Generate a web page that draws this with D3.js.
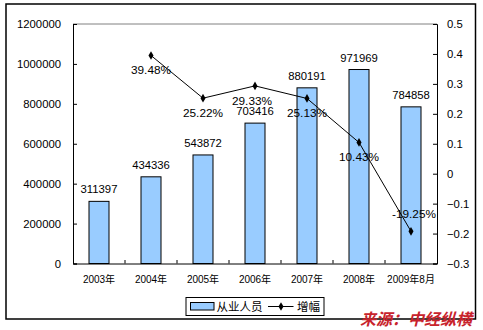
<!DOCTYPE html>
<html><head><meta charset="utf-8">
<script src="https://cdn.jsdelivr.net/npm/d3@7"></script>
<style>
body{margin:0;background:#fff;}
text{font-family:"Liberation Sans",Arial,"Noto Sans CJK SC",sans-serif;}
</style></head>
<body>
<svg id="c" width="483" height="330"></svg>
<script>
const categories = ["2003年","2004年","2005年","2006年","2007年","2008年","2009年8月"];
const employees = [311397,434336,543872,703416,880191,971969,784858];
const growthCats = ["2004年","2005年","2006年","2007年","2008年","2009年8月"];
const growth = [0.3948,0.2522,0.2933,0.2513,0.1043,-0.1925];
const growthLabels = ["39.48%","25.22%","29.33%","25.13%","10.43%","-19.25%"];
const leftTicks = [0,200000,400000,600000,800000,1000000,1200000];
const rightTicks = [-0.3,-0.2,-0.1,0,0.1,0.2,0.3,0.4,0.5];
const legendNames = ["从业人员","增幅"];

const svg = d3.select("#c");
const L=73,R=437,T=24,B=263.5;
const font="11.3px";

// outer border
svg.append("rect").attr("x",6).attr("y",4).attr("width",469.5).attr("height",315)
  .attr("fill","none").attr("stroke","#000").attr("stroke-width",1.5);

const x = d3.scaleBand().domain(categories).range([L,R]).paddingInner(0.615).paddingOuter(0.3075);
const xb = d3.scaleBand().domain(categories).range([L,R]);
const yL = d3.scaleLinear().domain([0,1200000]).range([B,T]);
const yR = d3.scaleLinear().domain([-0.3,0.5]).range([B,T]);

// top gray line
svg.append("line").attr("x1",L).attr("x2",R).attr("y1",T).attr("y2",T).attr("stroke","#808080").attr("stroke-width",1);

// bars
svg.selectAll("rect.bar").data(employees).enter().append("rect").attr("class","bar")
  .attr("x",(d,i)=>xb(categories[i])+xb.bandwidth()/2-10)
  .attr("width",20)
  .attr("y",d=>yL(d)).attr("height",d=>B-yL(d))
  .attr("fill","#99CCFF").attr("stroke","#000").attr("stroke-width",1);

// bar labels
svg.selectAll("text.bl").data(employees).enter().append("text").attr("class","bl")
  .attr("x",(d,i)=>xb(categories[i])+xb.bandwidth()/2)
  .attr("y",d=>yL(d)-8)
  .attr("text-anchor","middle").attr("font-size",font).attr("fill","#000").text(d=>d);

// left axis
const ga = svg.append("g").attr("transform",`translate(${L},0)`)
  .call(d3.axisLeft(yL).tickValues(leftTicks).tickSize(-4).tickPadding(12).tickFormat(d3.format("d")));
ga.select(".domain").attr("stroke","#000");
ga.selectAll("text").attr("font-size",font).attr("fill","#000").style("font-family",'"Liberation Sans",Arial,sans-serif');

// right axis
const gr = svg.append("g").attr("transform",`translate(${R},0)`)
  .call(d3.axisRight(yR).tickValues(rightTicks).tickSize(-4).tickPadding(10).tickFormat(d=>d3.format("")(+d.toFixed(1))));
gr.select(".domain").attr("stroke","#000");
gr.selectAll("text").attr("font-size",font).attr("fill","#000");

// bottom axis
const gb = svg.append("g").attr("transform",`translate(0,${B})`)
  .call(d3.axisBottom(xb).tickSize(0).tickPadding(12));
gb.select(".domain").attr("stroke","#000");
gb.selectAll("text").attr("font-size","10px").attr("fill","#000");
// band boundary ticks (inside)
gb.selectAll("line.bt").data(categories.slice(1)).enter().append("line").attr("class","bt")
  .attr("x1",d=>xb(d)).attr("x2",d=>xb(d)).attr("y1",0).attr("y2",-3.5).attr("stroke","#000");

// line
const cx = c=>xb(c)+xb.bandwidth()/2;
const line = d3.line().x((d,i)=>cx(growthCats[i])).y(d=>yR(d));
svg.append("path").datum(growth).attr("d",line).attr("fill","none").attr("stroke","#000").attr("stroke-width",1);
const sym = d3.symbol().type(d3.symbolDiamond).size(22);
svg.selectAll("path.pt").data(growth).enter().append("path").attr("class","pt")
  .attr("transform",(d,i)=>`translate(${cx(growthCats[i])},${yR(d)})`).attr("d",sym).attr("fill","#000");
svg.selectAll("text.gl").data(growth).enter().append("text").attr("class","gl")
  .attr("x",(d,i)=>cx(growthCats[i])+(i===5?3:0)+(i===2?-3:0))
  .attr("y",(d,i)=>i===5?yR(d)-13:yR(d)+19)
  .attr("text-anchor","middle").attr("font-size","11.8px").attr("fill","#000").text((d,i)=>growthLabels[i]);

// legend
const lg = svg.append("g");
lg.append("rect").attr("x",186).attr("y",297.5).attr("width",138).attr("height",18).attr("fill","#fff").attr("stroke","#000").attr("stroke-width",1);
lg.append("rect").attr("x",190.5).attr("y",302.5).attr("width",23.5).attr("height",7.5).attr("fill","#99CCFF").attr("stroke","#000");
lg.append("text").attr("x",216.5).attr("y",310.5).attr("font-size","11.5px").attr("fill","#000").text(legendNames[0]);
lg.append("line").attr("x1",268).attr("x2",293.5).attr("y1",306.5).attr("y2",306.5).attr("stroke","#000");
lg.append("path").attr("transform","translate(281,306.5)").attr("d",sym).attr("fill","#000");
lg.append("text").attr("x",297).attr("y",310.5).attr("font-size","11.5px").attr("fill","#000").text(legendNames[1]);

// watermark
svg.append("text").attr("x",360).attr("y",325).attr("font-size","16px").attr("font-weight","bold").attr("font-style","italic")
  .attr("fill","#c8232c").style("font-family",'"Noto Sans CJK SC",sans-serif').text("来源：中经纵横");
</script>
</body></html>
